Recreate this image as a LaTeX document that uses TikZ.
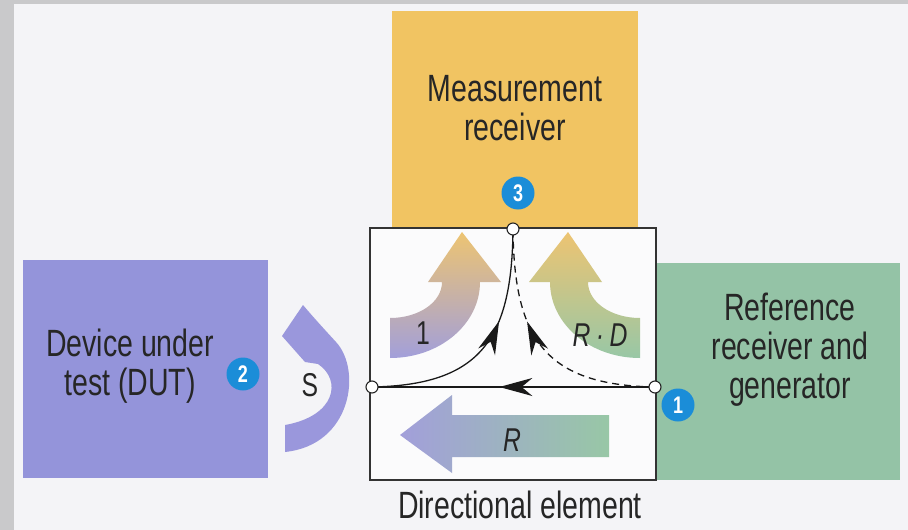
\documentclass[tikz,border=0pt]{standalone}
\usepackage{fontspec}
\setmainfont{Liberation Sans}[FakeStretch=0.75]
\usetikzlibrary{arrows.meta,decorations.markings}
\definecolor{pagebg}{HTML}{F4F4F7}
\definecolor{rimgray}{HTML}{C9C9CB}
\definecolor{measyellow}{HTML}{F1C462}
\definecolor{dutpurple}{HTML}{9494DA}
\definecolor{refgreen}{HTML}{94C3A6}
\definecolor{portblue}{HTML}{1B8DD8}
\definecolor{arryellow}{HTML}{EDC472}
\definecolor{arrpurple}{HTML}{A29FDA}
\definecolor{arrgreen}{HTML}{98C7A6}
\begin{document}
\begin{tikzpicture}[x=1pt, y=-1pt,
  box/.style={inner sep=0pt, outer sep=0pt},
  boxtext/.style={align=center, font=\fontsize{38}{39}\selectfont, text=black!85},
  lbl/.style={font=\fontsize{33}{33}\selectfont, text=black!85},
  badge/.style={circle, fill=portblue, inner sep=0pt, minimum size=33pt, text=white, font=\fontsize{24}{24}\selectfont\bfseries},
  port/.style={circle, draw=black!85, fill=white, line width=1.1pt, inner sep=0pt, minimum size=12pt},
  sig/.style={draw=black!90, line width=1.3pt},
  midarrow/.style={postaction=decorate, decoration={markings, mark=at position #1 with {\arrow[scale=1.5]{Stealth[length=22pt, width=12pt]}}}}]
  \useasboundingbox (0,0) rectangle (908,530);
  \fill[pagebg] (0,0) rectangle (908,530);
  \fill[rimgray] (0,0) rectangle (908,4);
  \fill[rimgray] (0,0) rectangle (14,530);

  \node[box, fill=measyellow, minimum width=246pt, minimum height=218pt] (meas) at (515,120) {};
  \node[box, fill=dutpurple, minimum width=245pt, minimum height=218pt] (dut) at (145.5,369) {};
  \node[box, fill=refgreen, minimum width=244pt, minimum height=217pt] (ref) at (778,371.5) {};
  \node[box, draw=black!80, line width=1.2pt, fill=white!60!pagebg, minimum width=286pt, minimum height=252pt] (dir) at (513,354) {};

  \shade[top color=arryellow, bottom color=arrpurple]
    (390,358) -- (390,318) .. controls (419,318) and (442,302) .. (442,282) -- (428,282)
    -- (462,232) -- (501,282) -- (480,282) .. controls (480,324) and (440,358) .. (390,358) -- cycle;
  \shade[top color=arryellow, bottom color=arrgreen]
    (640,358) -- (640,318) .. controls (611,318) and (588,302) .. (588,282) -- (602,282)
    -- (568,232) -- (529,282) -- (550,282) .. controls (550,324) and (590,358) .. (640,358) -- cycle;
  \shade[left color=arrpurple, right color=arrgreen]
    (609,415) -- (452,415) -- (452,395) -- (400,435) -- (452,473) -- (452,457) -- (609,457) -- cycle;
  \fill[arrpurple!95!blue]
    (303,305) -- (282,336) -- (305,362) -- (318,364) .. controls (342,380) and (336,416) .. (285,425)
    -- (285,452) .. controls (352,445) and (362,370) .. (336,342) .. controls (325,330) and (314,318) .. (303,305) -- cycle;

  \coordinate (pl) at (372,387);
  \coordinate (pr) at (655,387);
  \coordinate (pt) at (513,229);
  \draw[sig, midarrow=0.55] (pr) -- (pl);
  \draw[sig, midarrow=0.62] (pl) .. controls (480,385) and (512,340) .. (pt);
  \draw[sig, dash pattern=on 7pt off 5pt, midarrow=0.62] (pr) .. controls (546,385) and (514,340) .. (pt);
  \node[port] (portl) at (pl) {};
  \node[port] (portr) at (pr) {};
  \node[port] (portt) at (pt) {};

  \node[lbl] (one) at (423,333) {1};
  \node[lbl] (rd) at (600,335) {\itshape R\,·\,D};
  \node[lbl] (rr) at (512,440) {\itshape R};
  \node[lbl] (ss) at (310,385) {S};

  \node[badge] (b3) at (518,193) {3};
  \node[badge] (b2) at (243,374) {2};
  \node[badge] (b1) at (678,405) {1};

  \node[boxtext] (meastxt) at (515,108) {Measurement\\receiver};
  \node[boxtext] (duttxt) at (130,366) {Device under\\test (DUT)};
  \node[boxtext] (reftxt) at (790,350) {Reference\\receiver and\\generator};
  \node[boxtext] (dirtxt) at (520,505) {Directional element};
\end{tikzpicture}
\end{document}
